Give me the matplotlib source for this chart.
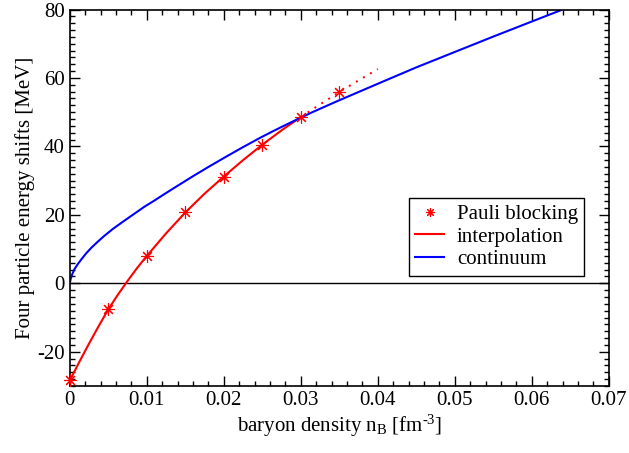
import numpy as np
import matplotlib.pyplot as plt
from matplotlib.ticker import MultipleLocator

plt.rcParams['font.family'] = ['Liberation Serif', 'DejaVu Serif']
plt.rcParams['mathtext.fontset'] = 'custom'
plt.rcParams['mathtext.rm'] = 'Liberation Serif'
plt.rcParams['mathtext.it'] = 'Liberation Serif:italic'
plt.rcParams['axes.unicode_minus'] = False

# Pauli blocking points
pauli_n = [0.0, 0.005, 0.01, 0.015, 0.02, 0.025, 0.03, 0.035]
pauli_E = [-28.4, -7.6, 8.0, 20.7, 31.2, 40.5, 48.6, 55.9]

# interpolation (solid part)
interp_n = [0.0, 0.00125, 0.0025, 0.00375, 0.005, 0.00625, 0.0075, 0.00875,
            0.01, 0.0125, 0.015, 0.0175, 0.02, 0.0225, 0.025, 0.0275, 0.03]
interp_E = [-28.4, -22.9, -17.6, -12.5, -7.6, -3.3, 0.7, 4.5,
            8.0, 14.6, 20.7, 26.2, 31.2, 36.0, 40.5, 44.7, 48.6]

# interpolation (dotted extension)
extra_n = [0.03, 0.0325, 0.035, 0.0375, 0.04]
extra_E = [48.6, 52.3, 55.9, 59.3, 62.6]

# continuum
cont_n = [0.0, 0.0001, 0.0003, 0.0006, 0.001, 0.0015, 0.0021, 0.0028,
          0.0036, 0.0045, 0.0056, 0.0069, 0.0083, 0.0097, 0.011, 0.0123,
          0.014, 0.016, 0.018, 0.0203, 0.0225, 0.0247, 0.0267, 0.0286,
          0.0315, 0.0345, 0.0375, 0.0403, 0.045, 0.05, 0.055, 0.06, 0.064]
cont_E = [0.0, 1.2, 2.6, 4.1, 5.5, 7.0, 8.7, 10.4,
          12.1, 13.9, 15.9, 18.0, 20.2, 22.4, 24.2, 26.1,
          28.5, 31.3, 34.0, 37.0, 39.8, 42.5, 44.8, 46.9,
          50.0, 53.0, 55.9, 58.6, 63.1, 67.6, 72.1, 76.5, 80.0]

fig = plt.figure(figsize=(6.29, 4.53), dpi=100)
ax = fig.add_axes([0.111, 0.148, 0.857, 0.831])

ax.axhline(0, color='black', lw=1.0)
ax.plot(extra_n, extra_E, color='red', lw=1.4, ls=(0, (1, 3.2)))
ax.plot(pauli_n, pauli_E, ls='none', marker=(8, 2, 0), ms=9, mew=0.8,
        color='red', label='Pauli blocking', clip_on=False, zorder=4)
ax.plot(interp_n, interp_E, color='red', lw=1.5, label='interpolation')
ax.plot(cont_n, cont_E, color='blue', lw=1.5, label='continuum')

ax.set_xlim(0, 0.07)
ax.set_ylim(-30, 80)
ax.xaxis.set_minor_locator(MultipleLocator(0.002))
ax.yaxis.set_major_locator(MultipleLocator(20))
ax.yaxis.set_minor_locator(MultipleLocator(2))
ax.set_xticks(np.arange(0, 0.0701, 0.01))
ax.set_xticklabels(['0', '0.01', '0.02', '0.03', '0.04', '0.05', '0.06', '0.07'])
ax.tick_params(which='both', direction='in', top=True, right=True,
               labelsize=15, width=1.0)
ax.tick_params(which='major', length=7)
ax.tick_params(which='minor', length=3.5)
for s in ax.spines.values():
    s.set_linewidth(1.2)

ax.set_xlabel(r'baryon density n$_\mathrm{B}$ [fm$^{\text{-3}}$]', fontsize=15, labelpad=2)
ax.set_ylabel('Four particle energy shifts [MeV]', fontsize=15, labelpad=2)

leg = ax.legend(loc='upper left', bbox_to_anchor=(0.629, 0.499), fontsize=15,
                frameon=True, fancybox=False, framealpha=1, edgecolor='black',
                borderaxespad=0, handlelength=1.4, handletextpad=0.6,
                labelspacing=0.15, borderpad=0.3, markerscale=0.7)
leg.get_frame().set_linewidth(1.0)

fig.savefig('out.png', dpi=100)
